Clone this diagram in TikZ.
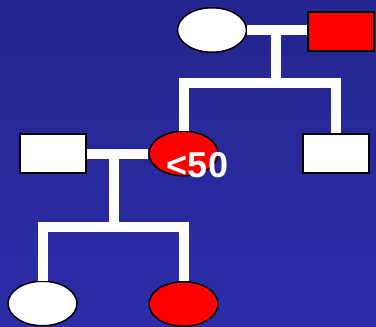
\documentclass[tikz,border=0pt]{standalone}
\usepackage{fontspec}
\setmainfont{Liberation Sans}
\usetikzlibrary{shapes.geometric}
\definecolor{bgtop}{RGB}{37,37,143}
\definecolor{bgbot}{RGB}{44,44,168}
\definecolor{pedred}{RGB}{255,0,0}
\begin{document}
\begin{tikzpicture}[x=1pt,y=-1pt,
  female/.style={ellipse,draw=black,line width=1.5pt,inner sep=0pt,minimum width=69pt,minimum height=44.5pt},
  male/.style={rectangle,draw=black,line width=2pt,inner sep=0pt,minimum width=66pt,minimum height=39pt},
  unaff/.style={fill=white},
  aff/.style={fill=pedred},
  link/.style={draw=white,line width=10pt},
  lbl/.style={text=white,font=\bfseries\fontsize{36}{40}\selectfont,inner sep=0pt}]
\useasboundingbox (0,0) rectangle (376,327);
\fill[top color=bgtop,bottom color=bgbot] (0,0) rectangle (376,327);
% generation I
\node[female,unaff] (f1) at (212,30) {};
\node[male,aff] (m1) at (341,31.5) {};
% generation II
\node[male,unaff] (h2) at (53,153.5) {};
\node[female,aff] (p) at (183.5,153.5) {};
\node[male,unaff] (s2) at (336,153.5) {};
% generation III
\node[female,unaff] (c1) at (42.5,303.5) {};
\node[female,aff] (c2) at (183.5,304) {};
% connectors
\coordinate (j1) at (276,30);
\coordinate (b1) at (276,83);
\coordinate (j2) at (114,152.5);
\coordinate (b2) at (114,227);
\draw[link] (f1.east) -- (f1.east -| m1.west);
\draw[link] (j1) -- (b1);
\draw[link] (p.north) |- (b1) -| (s2.north);
\draw[link] (h2.east) -- (h2.east -| p.west);
\draw[link] (j2) -- (b2);
\draw[link] (c1.north) |- (b2) -| (c2.north);
% label
\node[lbl,anchor=base] (age) at (197.5,177) {<50};
\end{tikzpicture}
\end{document}
